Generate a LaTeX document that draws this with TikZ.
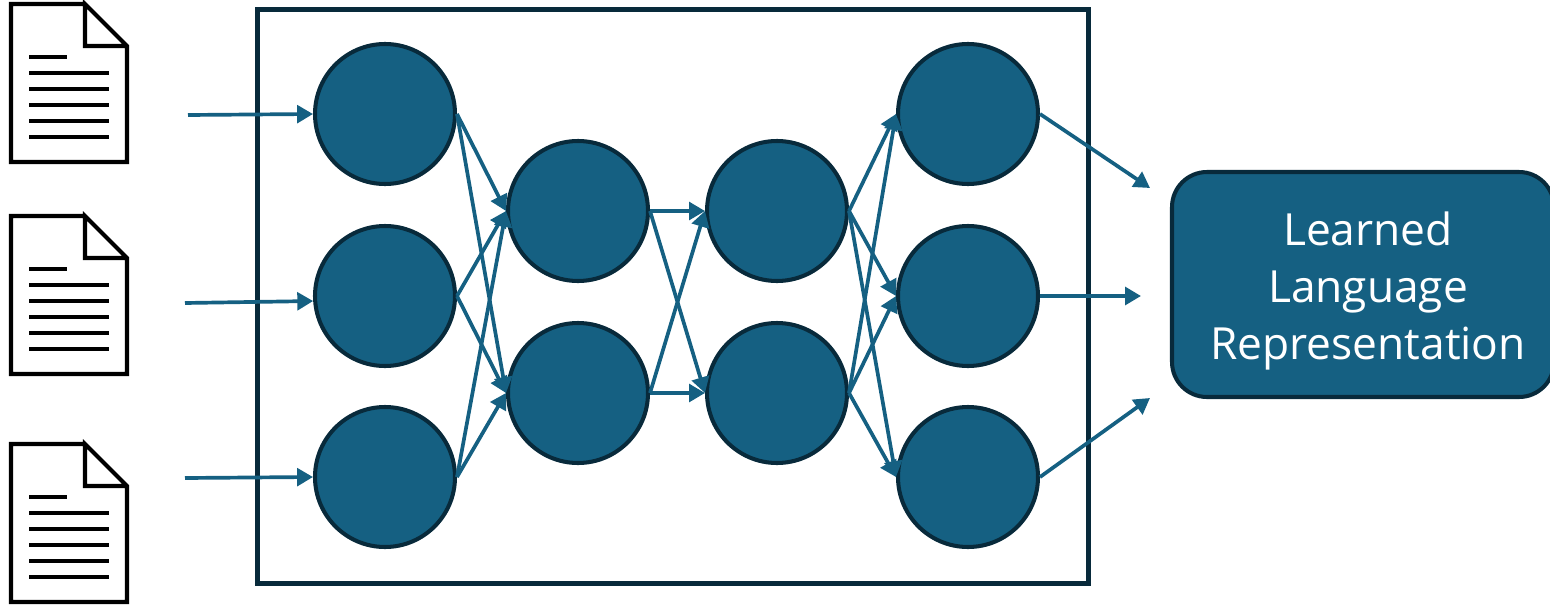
\documentclass[tikz,border=0pt]{standalone}
\usepackage{fontspec}
\setmainfont{Open Sans}
\usetikzlibrary{arrows.meta}
\definecolor{netfill}{HTML}{156082}
\definecolor{netline}{HTML}{082A3B}
\tikzset{
  neuron/.style={circle, draw=netline, fill=netfill, line width=2.3pt, minimum size=2.8cm, inner sep=0pt},
  conn/.style={draw=netfill, line width=2.1pt, -{Triangle[length=9pt,width=10pt]}},
  docline/.style={line width=2.2pt, black},
}
\begin{document}
\begin{tikzpicture}
      \useasboundingbox (0,0) rectangle (31,12.08);
      % surrounding frame
      \node[draw=netline, line width=2.5pt, minimum width=16.62cm, minimum height=11.48cm, inner sep=0pt] (netframe) at (13.46,6.15) {};
      % documents
      \foreach \off in {0,-4.24,-8.8} {
        \draw[line width=2.3pt, black, line join=miter] (1.7,12+\off) -- (0.22,12+\off) -- (0.22,8.84+\off) -- (2.54,8.84+\off) -- (2.54,11.16+\off) -- (1.7,12+\off) -- (1.7,11.16+\off) -- (2.54,11.16+\off);
        \draw[docline] (0.58,10.94+\off) -- (1.34,10.94+\off);
        \foreach \y in {10.62,10.3,9.98,9.66,9.34}
          \draw[docline] (0.58,\y+\off) -- (2.18,\y+\off);
      }
      % layers
      \node[neuron] (c11) at (7.7,9.8) {};
      \node[neuron] (c12) at (7.7,6.16) {};
      \node[neuron] (c13) at (7.7,2.54) {};
      \node[neuron] (c2a) at (11.56,7.86) {};
      \node[neuron] (c2b) at (11.56,4.22) {};
      \node[neuron] (c3a) at (15.54,7.86) {};
      \node[neuron] (c3b) at (15.54,4.22) {};
      \node[neuron] (c41) at (19.36,9.8) {};
      \node[neuron] (c42) at (19.36,6.16) {};
      \node[neuron] (c43) at (19.36,2.54) {};
      % result box
      \node[draw=netline, fill=netfill, line width=2.3pt, rounded corners=0.7cm, minimum width=7.64cm, minimum height=4.5cm, inner sep=0pt,
        label={[text=white, align=center, xshift=0.1cm, yshift=-0.13cm, font=\fontsize{25.2}{32.4}\selectfont, inner sep=0pt]center:Learned\\Language\\Representation}] (result) at (27.26,6.39) {};
      % free ends
      \coordinate (in1) at (3.76,9.78);
      \coordinate (in2) at (3.7,6.02);
      \coordinate (in3) at (3.7,2.52);
      \coordinate (out1) at (23,8.32);
      \coordinate (out2) at (22.82,6.16);
      \coordinate (out3) at (23,4.12);
      % connectors
      \draw[conn] (in1) -- (c11.west);
      \draw[conn] (in2) -- (c12.184);
      \draw[conn] (in3) -- (c13.west);
      \foreach \a in {c11,c12,c13}
        \foreach \b in {c2a,c2b}
          \draw[conn] (\a.east) -- (\b.west);
      \foreach \a in {c2a,c2b}
        \foreach \b in {c3a,c3b}
          \draw[conn] (\a.east) -- (\b.west);
      \foreach \a in {c3a,c3b}
        \foreach \b in {c41,c42,c43}
          \draw[conn] (\a.east) -- (\b.west);
      \draw[conn] (c41.east) -- (out1);
      \draw[conn] (c42.east) -- (out2);
      \draw[conn] (c43.east) -- (out3);
\end{tikzpicture}
\end{document}
